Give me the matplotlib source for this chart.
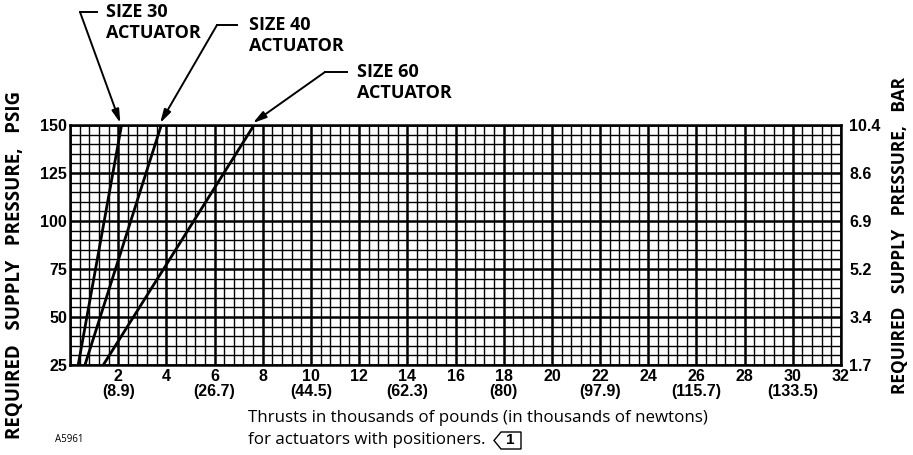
import matplotlib
matplotlib.use("Agg")
import matplotlib.pyplot as plt
from matplotlib.lines import Line2D
from matplotlib.patches import Polygon

# thrust (thousands of lb) at 25 psig and at 150 psig for each actuator line
sizes = ["SIZE 30\nACTUATOR", "SIZE 40\nACTUATOR", "SIZE 60\nACTUATOR"]
thrust_low = [0.34, 0.62, 1.38]
thrust_high = [2.14, 3.79, 7.64]
psig = [25, 150]

x_ticks = [2, 4, 6, 8, 10, 12, 14, 16, 18, 20, 22, 24, 26, 28, 30, 32]
newtons = {2: "8.9", 6: "26.7", 10: "44.5", 14: "62.3", 18: "80",
           22: "97.9", 26: "115.7", 30: "133.5"}
psig_ticks = [25, 50, 75, 100, 125, 150]
bar_labels = ["1.7", "3.4", "5.2", "6.9", "8.6", "10.4"]

W, H = 913, 455
fig = plt.figure(figsize=(W / 100, H / 100), dpi=100)
ax = fig.add_axes([70 / W, 1 - 365 / H, (841 - 70) / W, (365 - 125) / H])

ax.set_xlim(0, 32)
ax.set_ylim(25, 150)

# graph paper grid
for i in range(81):
    x = i * 0.4
    lw = 1.8 if i % 5 == 0 else 1.0
    ax.axvline(x, color="black", lw=lw, zorder=1)
for i in range(26):
    y = 25 + i * 5
    lw = 1.8 if i % 5 == 0 else 1.0
    ax.axhline(y, color="black", lw=lw, zorder=1)

for lo, hi in zip(thrust_low, thrust_high):
    ax.plot([lo, hi], psig, color="black", lw=2, zorder=3, solid_capstyle="butt")

for s in ax.spines.values():
    s.set_linewidth(1.8)

tick_font = dict(family="Liberation Sans", weight="bold", size=11.5)
labels = [f"{t}\n({newtons[t]})" if t in newtons else str(t) for t in x_ticks]
ax.set_xticks(x_ticks)
ax.set_xticklabels(labels, **tick_font)
for t in ax.get_xticklabels():
    t.set_linespacing(0.95)
ax.set_yticks(psig_ticks)
ax.set_yticklabels([str(v) for v in psig_ticks], **tick_font)
ax.tick_params(length=0)
ax.tick_params(axis="x", pad=3)
ax.tick_params(axis="y", pad=2)

ax2 = ax.twinx()
ax2.set_ylim(25, 150)
ax2.set_yticks(psig_ticks)
ax2.set_yticklabels(bar_labels, **tick_font)
ax2.tick_params(length=0, pad=6)
for s in ax2.spines.values():
    s.set_visible(False)

lab_font = dict(family="Open Sans", weight="bold", size=13.5)
fig.text(15 / W, 1 - 265 / H, "REQUIRED   SUPPLY   PRESSURE,   PSIG",
         rotation=90, ha="center", va="center", **lab_font)
fig.text(900 / W, 1 - 236 / H, "REQUIRED   SUPPLY   PRESSURE,   BAR",
         rotation=90, ha="center", va="center", **dict(lab_font, size=12.5))

# leader lines and callouts (image pixel positions)
corners = [(80, 12), (217, 25), (325, 72)]
ends = [97, 237, 347]
text_pos = [(106, 3), (249, 16), (357, 63)]
for name, hi, (cx, cy), ex, (tx, ty) in zip(sizes, thrust_high, corners, ends, text_pos):
    fig.add_artist(Line2D([cx / W, ex / W], [1 - cy / H, 1 - cy / H],
                          color="black", lw=1.4, transform=fig.transFigure))
    ax.annotate("", xy=(hi - 0.05, 151), xycoords="data",
                xytext=(cx, H - cy), textcoords="figure pixels",
                arrowprops=dict(arrowstyle="-|>,head_length=0.8,head_width=0.22",
                                color="black", lw=1.4, shrinkA=0, shrinkB=0),
                annotation_clip=False)
    fig.text(tx / W, 1 - ty / H, name, ha="left", va="top",
             linespacing=1.2, family="Open Sans", weight="bold", size=13)

cap_font = dict(family="Open Sans", size=12.2)
fig.text(248 / W, 1 - 418 / H, "Thrusts in thousands of pounds (in thousands of newtons)",
         ha="left", va="center", **cap_font)
fig.text(248 / W, 1 - 440 / H, "for actuators with positioners.",
         ha="left", va="center", **cap_font)

# note flag symbol
px, py0, py1 = 494, 432, 449
flag = Polygon([(px / W, 1 - (py0 + py1) / 2 / H), ((px + 7) / W, 1 - py0 / H),
                ((px + 27) / W, 1 - py0 / H), ((px + 27) / W, 1 - py1 / H),
                ((px + 7) / W, 1 - py1 / H)], closed=True, fill=False,
               edgecolor="black", lw=1.0, transform=fig.transFigure)
fig.add_artist(flag)
fig.text((px + 16) / W, 1 - (py0 + py1) / 2 / H, "1", ha="center", va="center",
         family="Liberation Sans", weight="bold", size=11)

fig.text(55 / W, 1 - 440 / H, "A5961", ha="left", va="center",
         family="Open Sans", size=7)

fig.savefig("out.png", dpi=100)
